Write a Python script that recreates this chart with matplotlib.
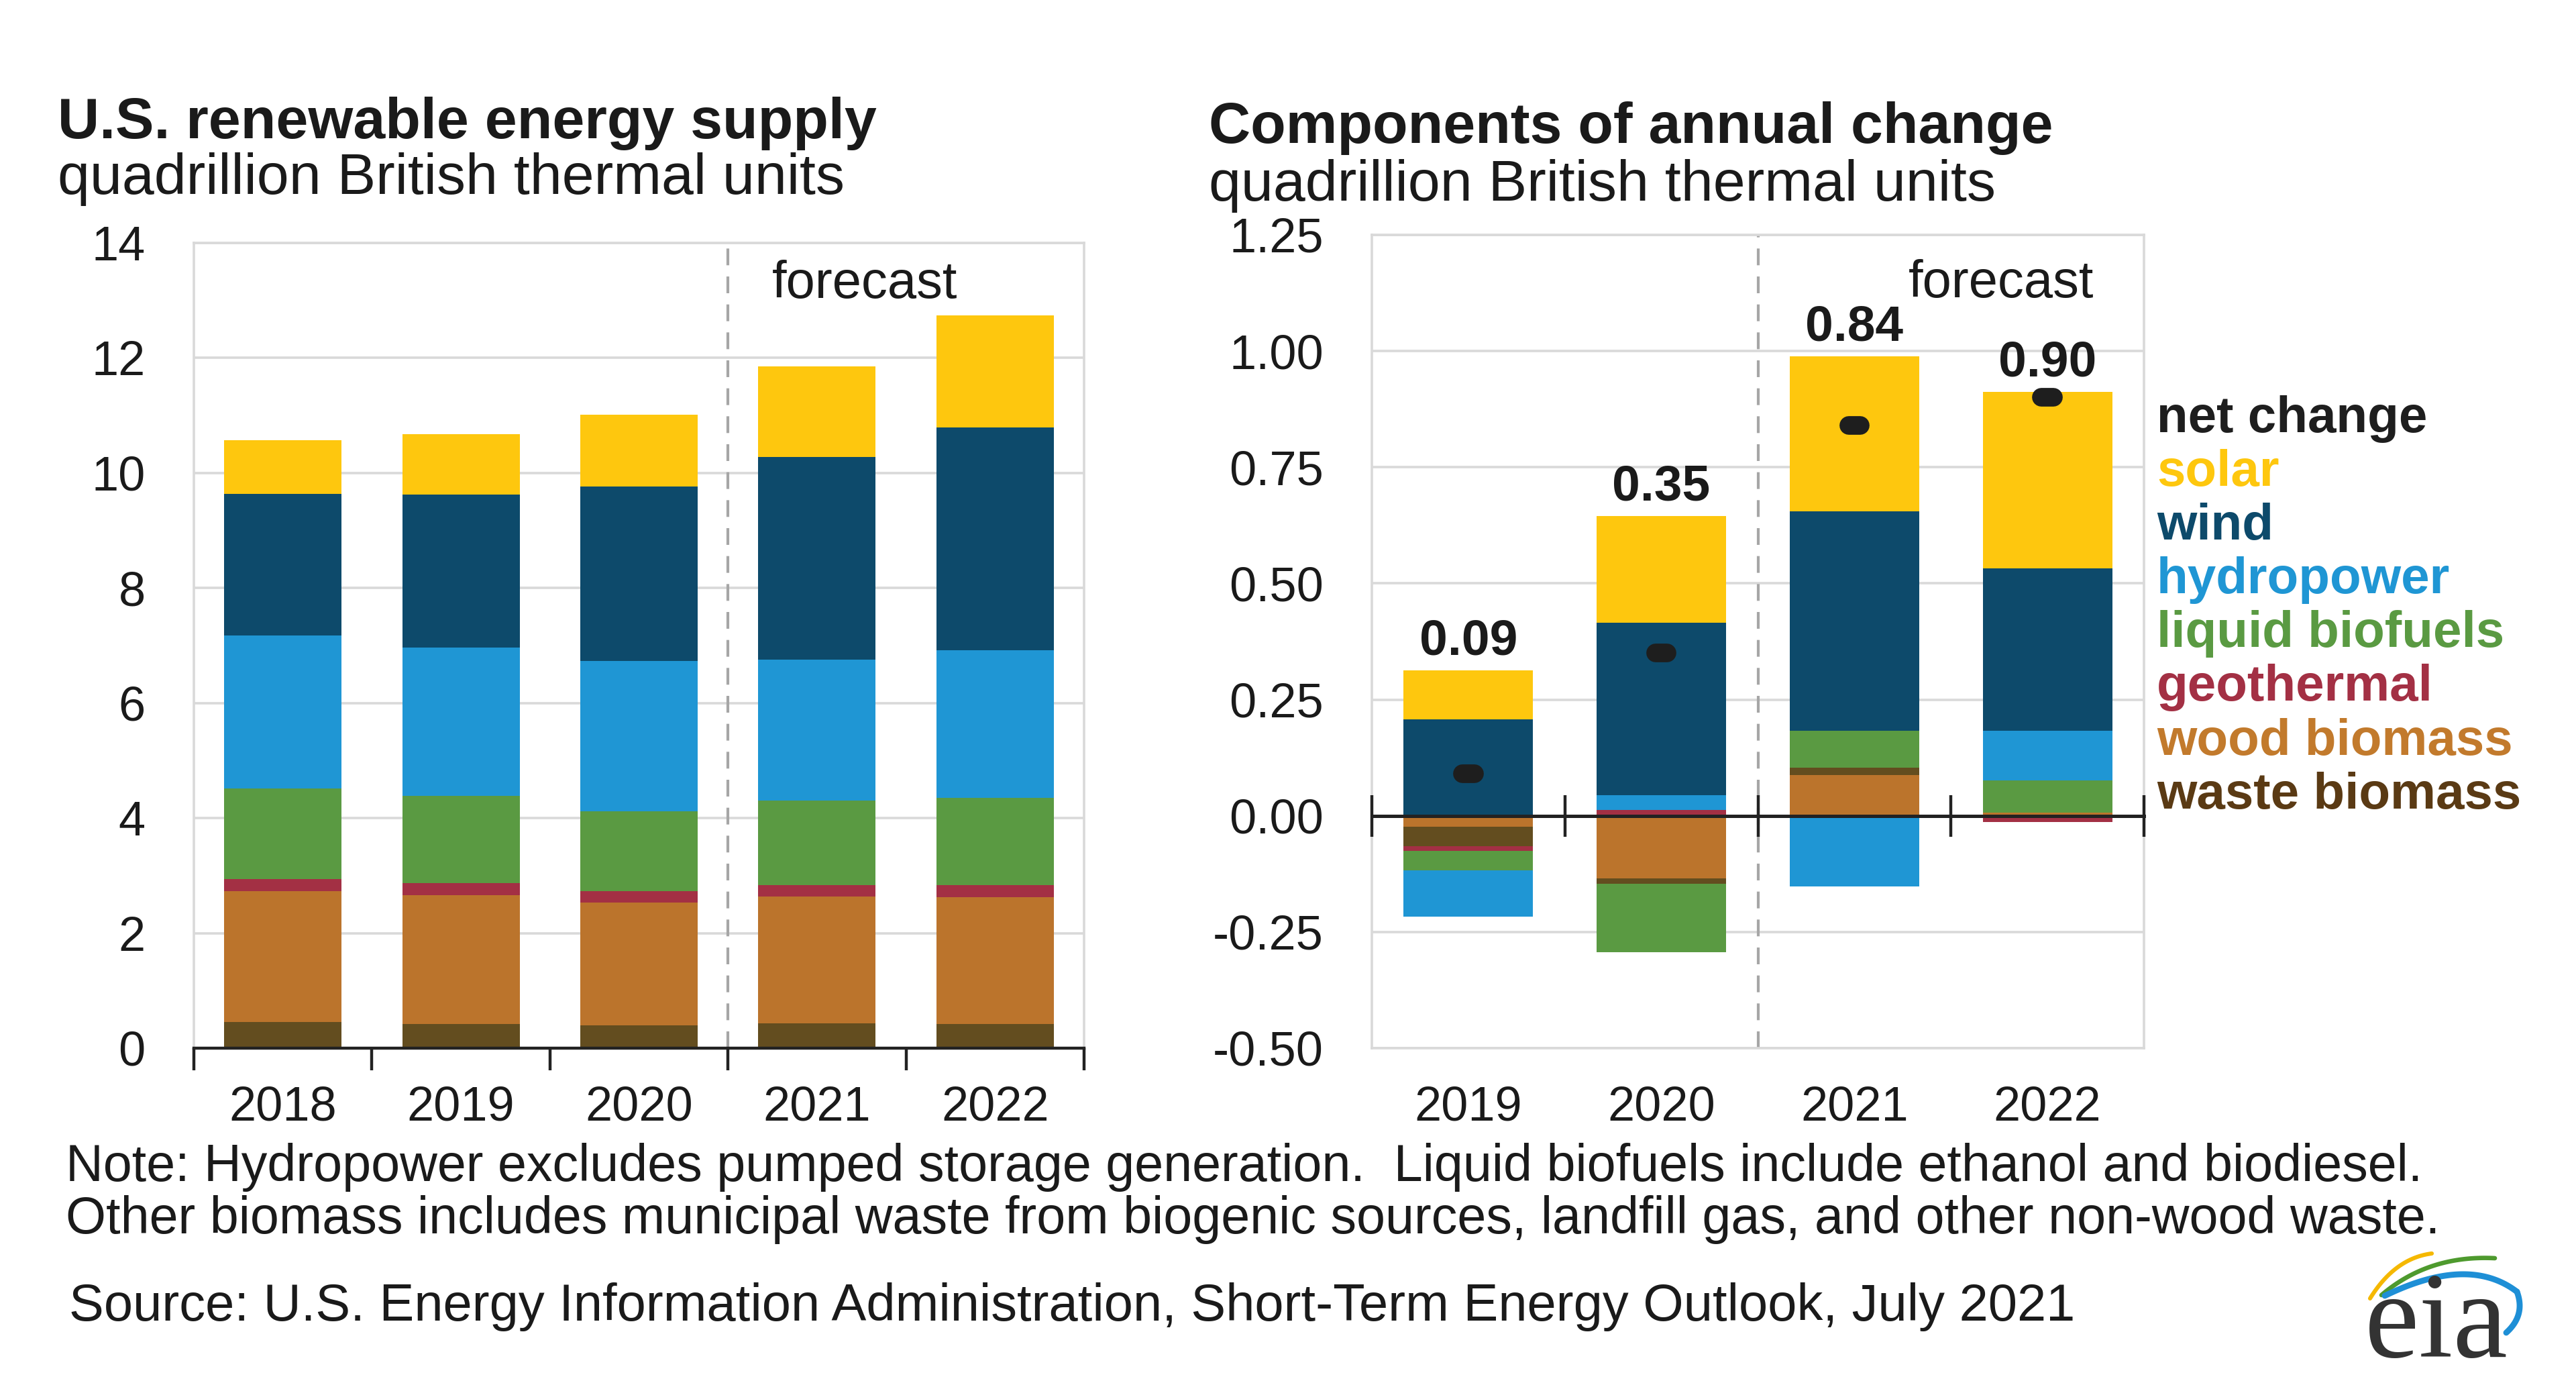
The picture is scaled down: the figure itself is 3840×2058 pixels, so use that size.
import matplotlib
matplotlib.use("Agg")
import matplotlib.pyplot as plt
import numpy as np

plt.rcParams['font.family'] = ['Liberation Sans', 'DejaVu Sans']

# --- left chart: U.S. renewable energy supply (quadrillion Btu)
years = ["2018", "2019", "2020", "2021", "2022"]
supply_names = ["waste biomass", "wood biomass", "geothermal", "liquid biofuels",
                "hydropower", "wind", "solar"]
waste_supply = [0.45, 0.42, 0.40, 0.43, 0.42]
wood_supply = [2.28, 2.24, 2.13, 2.21, 2.21]
geo_supply = [0.21, 0.21, 0.20, 0.19, 0.20]
biofuel_supply = [1.57, 1.52, 1.39, 1.47, 1.52]
hydro_supply = [2.67, 2.57, 2.61, 2.46, 2.57]
wind_supply = [2.46, 2.66, 3.04, 3.52, 3.87]
solar_supply = [0.93, 1.05, 1.24, 1.57, 1.95]

# --- right chart: components of annual change
change_years = ["2019", "2020", "2021", "2022"]
change_names = ["wood biomass", "waste biomass", "geothermal", "liquid biofuels",
                "hydropower", "wind", "solar"]
wood_chg = [-0.023, -0.135, 0.087, 0.007]
waste_chg = [-0.042, -0.011, 0.016, -0.005]
geo_chg = [-0.010, 0.013, 0.0, -0.008]
biofuel_chg = [-0.042, -0.148, 0.080, 0.069]
hydro_chg = [-0.100, 0.031, -0.152, 0.107]
wind_chg = [0.208, 0.371, 0.472, 0.350]
solar_chg = [0.105, 0.230, 0.334, 0.379]
net_chg = [0.09, 0.35, 0.84, 0.90]

legend_names = ["net change", "solar", "wind", "hydropower", "liquid biofuels",
                "geothermal", "wood biomass", "waste biomass"]

colors = {
    "solar": "#FEC70E",
    "wind": "#0D4A6B",
    "hydropower": "#1F96D4",
    "liquid biofuels": "#5A9A42",
    "geothermal": "#A33044",
    "wood biomass": "#BB742C",
    "waste biomass": "#634D1F",
    "net change": "#1E1E1E",
}
text_colors = dict(colors)
text_colors["waste biomass"] = "#5A3A14"
text_colors["wood biomass"] = "#C27A2C"

GRID = "#D9D9D9"
W, H = 3840, 2058
fig = plt.figure(figsize=(W / 200, H / 200), dpi=200)


def fx(px):
    return px / W


def fy(py):
    return 1 - py / H


def style_axes(ax):
    for s in ax.spines.values():
        s.set_color(GRID)
        s.set_linewidth(1.3)
    ax.grid(axis="y", color=GRID, linewidth=1.3)
    ax.set_axisbelow(True)
    ax.tick_params(axis="y", length=0, pad=26, labelsize=26, labelcolor="#1a1a1a")
    ax.tick_params(axis="x", which="major", length=0, pad=20, labelsize=26,
                   labelcolor="#1a1a1a")


# ---------------- left chart
ax1 = fig.add_axes([fx(289), fy(1562), fx(1616 - 289), 1200 / H])
supply = [waste_supply, wood_supply, geo_supply, biofuel_supply, hydro_supply,
          wind_supply, solar_supply]
x1 = np.arange(len(years))
bottom = np.zeros(len(years))
for name, vals in zip(supply_names, supply):
    ax1.bar(x1, vals, 0.66, bottom=bottom, color=colors[name], linewidth=0)
    bottom += np.array(vals)
ax1.set_xlim(-0.5, len(years) - 0.5)
ax1.set_ylim(0, 14)
ax1.set_yticks(range(0, 15, 2))
ax1.set_xticks(x1)
ax1.set_xticklabels(years)
ax1.set_xticks(np.arange(-0.5, len(years)), minor=True)
style_axes(ax1)
ax1.spines["bottom"].set_color("#222222")
ax1.spines["bottom"].set_linewidth(1.6)
ax1.tick_params(axis="x", which="minor", length=12, width=1.6, color="#222222",
                direction="out")
ax1.axvline(2.5, color="#A6A6A6", linestyle=(0, (6, 4)), linewidth=1.5, zorder=1)
ax1.text(0.754, 0.949, "forecast", transform=ax1.transAxes, ha="center",
         va="center", fontsize=28, color="#1a1a1a")

# ---------------- right chart
ax2 = fig.add_axes([fx(2045), fy(1562), fx(3196 - 2045), 1212 / H])
changes = [wood_chg, waste_chg, geo_chg, biofuel_chg, hydro_chg, wind_chg, solar_chg]
x2 = np.arange(len(change_years))
pos_bottom = np.zeros(len(change_years))
neg_bottom = np.zeros(len(change_years))
for name, vals in zip(change_names, changes):
    vals = np.array(vals)
    base = np.where(vals >= 0, pos_bottom, neg_bottom)
    ax2.bar(x2, vals, 0.67, bottom=base, color=colors[name], linewidth=0, zorder=2)
    pos_bottom += np.clip(vals, 0, None)
    neg_bottom += np.clip(vals, None, 0)
ax2.hlines(net_chg, x2 - 0.03, x2 + 0.03, colors=colors["net change"],
           linewidth=10, capstyle="round", zorder=4)
for xi, top, v in zip(x2, pos_bottom, net_chg):
    ax2.annotate(f"{v:.2f}", (xi, top), xytext=(0, 3), textcoords="offset points",
                 ha="center", va="bottom", fontsize=27, fontweight="bold",
                 color="#1a1a1a", zorder=5)
ax2.set_xlim(-0.5, len(change_years) - 0.5)
ax2.set_ylim(-0.5, 1.25)
yt = np.arange(-0.5, 1.26, 0.25)
ax2.set_yticks(yt)
ax2.set_yticklabels([f"{v:.2f}" for v in yt])
ax2.set_xticks(x2)
ax2.set_xticklabels(change_years)
style_axes(ax2)
# zero line with category-boundary ticks, drawn over the bars
zero_frac = (0 - ax2.get_ylim()[0]) / (ax2.get_ylim()[1] - ax2.get_ylim()[0])
sec = ax2.secondary_xaxis(zero_frac)
sec.set_zorder(6)
sec.set_xticks(np.arange(-0.5, len(change_years)))
sec.set_xticklabels([])
sec.tick_params(direction="inout", length=22, width=1.6, color="#222222")
sec.spines["bottom"].set_color("#222222")
sec.spines["bottom"].set_linewidth(1.8)
ax2.axvline(1.5, color="#A6A6A6", linestyle=(0, (6, 4)), linewidth=1.5, zorder=1)
ax2.text(0.815, 0.94, "forecast", transform=ax2.transAxes, ha="center",
         va="center", fontsize=28, color="#1a1a1a")

# legend as coloured words
for i, name in enumerate(legend_names):
    fig.text(fx(3215), fy(624 + i * 80.2), name, ha="left", va="center",
             fontsize=27.5, fontweight="bold", color=text_colors[name])

# ---------------- titles
fig.text(fx(86), fy(206), "U.S. renewable energy supply", fontsize=31,
         fontweight="bold", color="#1a1a1a", va="baseline")
fig.text(fx(86), fy(289), "quadrillion British thermal units", fontsize=31,
         color="#1a1a1a", va="baseline")
fig.text(fx(1802), fy(213), "Components of annual change", fontsize=31,
         fontweight="bold", color="#1a1a1a", va="baseline")
fig.text(fx(1802), fy(299), "quadrillion British thermal units", fontsize=31,
         color="#1a1a1a", va="baseline")

# ---------------- notes
fig.text(fx(98), fy(1739), "Note: Hydropower excludes pumped storage generation.  "
         "Liquid biofuels include ethanol and biodiesel.", fontsize=27.8,
         color="#1a1a1a", va="center")
fig.text(fx(98), fy(1817), "Other biomass includes municipal waste from biogenic "
         "sources, landfill gas, and other non-wood waste.", fontsize=27.8,
         color="#1a1a1a", va="center")
fig.text(fx(103), fy(1947), "Source: U.S. Energy Information Administration, "
         "Short-Term Energy Outlook, July 2021", fontsize=28, color="#1a1a1a",
         va="center")

# ---------------- eia logo
logo = fig.add_axes([fx(3500), fy(2040), fx(280), 200 / H])
logo.set_xlim(3500, 3780)
logo.set_ylim(2040, 1840)
logo.axis("off")


def bezier(p0, p1, p2, n=60):
    t = np.linspace(0, 1, n)[:, None]
    pts = (1 - t) ** 2 * np.array(p0) + 2 * (1 - t) * t * np.array(p1) + t ** 2 * np.array(p2)
    return pts[:, 0], pts[:, 1]


bx, by = bezier((3533, 1935), (3570, 1875), (3625, 1868))
logo.plot(bx, by, color="#F5B800", linewidth=2.2, solid_capstyle="round")
bx, by = bezier((3550, 1930), (3620, 1870), (3719, 1875))
logo.plot(bx, by, color="#4E9A2E", linewidth=2.4, solid_capstyle="round")
bx, by = bezier((3555, 1931), (3680, 1870), (3752, 1925))
logo.plot(bx, by, color="#1E8FD6", linewidth=3.2, solid_capstyle="round")
bx, by = bezier((3752, 1925), (3765, 1960), (3736, 1986))
logo.plot(bx, by, color="#1E8FD6", linewidth=3.2, solid_capstyle="round")
logo.text(3632, 2022, "eia", family=["Liberation Serif", "DejaVu Serif"],
          fontsize=66, color="#333333", ha="center", va="baseline")

fig.savefig("out.png", dpi=200, facecolor="white")
